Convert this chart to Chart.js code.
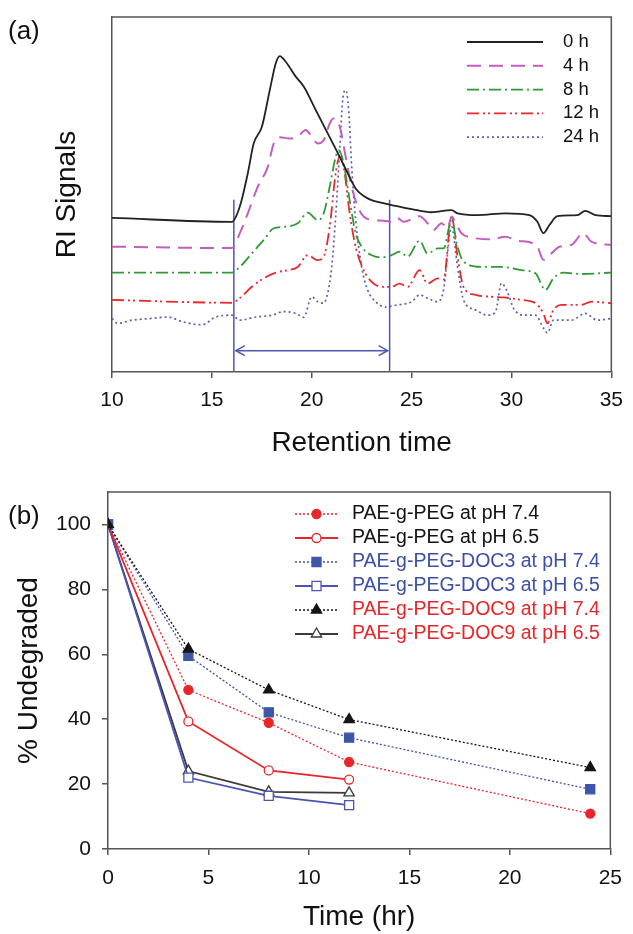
<!DOCTYPE html>
<html>
<head>
<meta charset="utf-8">
<script src="https://cdn.jsdelivr.net/npm/chart.js@4.4.0/dist/chart.umd.min.js"></script>
<style>
  html, body { margin: 0; padding: 0; background: #fff; }
  body { width: 633px; height: 934px; position: relative; overflow: hidden; font-family: 'Liberation Sans', Arial, sans-serif; }
  .box { position: absolute; left: 0; width: 633px; }
  #boxA { top: 0; height: 460px; }
  #boxB { top: 460px; height: 474px; }
  .panel { position: absolute; font-size: 26px; line-height: 1; color: #111; }
</style>
</head>
<body>
<div class="box" id="boxA"><canvas id="chartA"></canvas></div>
<div class="box" id="boxB"><canvas id="chartB"></canvas></div>
<div class="panel" style="left:8px; top:17px">(a)</div>
<div class="panel" style="left:8px; top:502px">(b)</div>

<script>
// ---- panel (a): RI traces, retention time vs signal (arbitrary units) ----
const x0h = [10, 16.0, 16.4, 16.8, 17.1, 17.5, 17.9, 18.2, 18.4, 18.7, 19.2, 19.6, 20.2, 20.8, 21.4, 21.8, 22.2, 22.8, 23.8, 25.0, 26.0, 27.0, 27.3, 28.3, 29.7, 30.9, 31.3, 31.6, 31.9, 32.3, 33.3, 33.7, 34.2, 35];
const y0h = [43.4, 42.3, 46.6, 56, 64.5, 69, 79.4, 87, 89, 87.4, 83.2, 80.4, 73.8, 67.2, 60.6, 56, 51.7, 48.9, 47.3, 45.9, 45, 45.6, 44.7, 44.2, 44.7, 44.2, 42.3, 39.1, 41.4, 43.9, 44.2, 45.4, 44.2, 43.9];

const x4h = [10, 16.0, 16.4, 16.8, 17.3, 17.8, 18.1, 18.4, 18.9, 19.3, 19.7, 20.0, 20.3, 20.6, 20.9, 21.1, 21.4, 21.7, 22.0, 22.3, 22.6, 23.0, 23.6, 24.0, 24.3, 24.6, 25.4, 25.8, 26.1, 26.5, 26.8, 27.0, 27.2, 27.5, 28.0, 29.0, 29.7, 30.3, 31.0, 31.3, 31.6, 32.0, 32.4, 33.0, 33.6, 34.0, 35];
const y4h = [35.3, 34.9, 39.1, 44.7, 52.2, 57.8, 64.4, 66.1, 65.8, 66.3, 68.2, 66.3, 64.4, 65.3, 70, 71.4, 69.2, 60.6, 52.2, 46.6, 43.8, 42.8, 42.6, 42.3, 43.3, 42.3, 43.9, 41.9, 40, 41.9, 40.5, 43.8, 42, 39.1, 37.9, 37.4, 38.1, 37, 36.4, 35.3, 31.6, 33.4, 35.3, 35.8, 39.1, 36.7, 35.8];

const x8h = [10, 16.0, 16.4, 17.0, 17.6, 18.1, 18.6, 19.3, 19.8, 20.3, 20.6, 20.9, 21.2, 21.35, 21.6, 21.9, 22.2, 22.5, 23.0, 23.5, 24.0, 24.4, 24.8, 25.4, 25.8, 26.3, 26.6, 27.0, 27.3, 27.6, 28.5, 29.5, 30.5, 31.2, 31.7, 32.1, 32.6, 33.5, 35];
const y8h = [28, 28, 29.6, 33.4, 37.2, 40.5, 40.9, 41.9, 44.9, 42.8, 44.7, 52.2, 60.6, 62.5, 58.7, 48.4, 39.1, 35.3, 32.9, 32.3, 32.9, 33.9, 32.5, 37, 33.4, 34.8, 34.8, 42.8, 35.3, 31.1, 29.6, 29.6, 28.7, 27.8, 23.1, 26.4, 28, 27.6, 28];

const x12h = [10, 16.0, 16.4, 17.0, 17.6, 18.2, 18.8, 19.3, 19.8, 20.3, 20.6, 20.9, 21.2, 21.4, 21.6, 21.9, 22.2, 22.6, 23.0, 23.5, 24.0, 24.4, 24.8, 25.4, 25.8, 26.3, 26.6, 27.0, 27.3, 27.6, 28.2, 29.0, 29.6, 30.5, 31.2, 31.6, 31.8, 32.1, 32.5, 33.5, 34.0, 35];
const y12h = [20.3, 19.5, 20.8, 24, 26.4, 28, 28.7, 29.6, 32.9, 31.5, 32.5, 40.9, 56, 60.6, 57.8, 44.7, 35.3, 28.7, 25.4, 24, 24, 24.9, 24, 28.7, 24.9, 26.4, 26, 43.8, 32.5, 24, 21.7, 21.2, 21, 20.3, 19.4, 16.5, 13.7, 17.5, 18.9, 18.9, 19.8, 19.4];

const x24h = [10, 10.3, 11, 12, 12.8, 13.5, 14.5, 15.2, 16.0, 16.4, 17.2, 18.0, 18.6, 19.2, 19.6, 20.0, 20.3, 20.6, 20.8, 21.0, 21.2, 21.4, 21.55, 21.7, 21.85, 22.0, 22.2, 22.5, 22.8, 23.2, 23.7, 24.2, 25.0, 25.4, 25.8, 26.3, 26.6, 27.0, 27.3, 27.6, 28.2, 28.8, 29.2, 29.5, 29.8, 30.1, 30.6, 31.2, 31.6, 31.8, 32.1, 33.0, 33.7, 34.3, 35];
const y24h = [15.1, 13.7, 14.6, 15.1, 15.5, 14.2, 13.3, 15.5, 16, 14.6, 15.5, 16, 17, 16.5, 15.4, 21.2, 19.8, 19.4, 22.2, 29.6, 43.8, 62.5, 76.6, 79.4, 73.8, 57.8, 42.8, 29.6, 23.1, 19.8, 18.3, 18.8, 19.8, 21.7, 20.8, 19.8, 23.1, 40.9, 29.6, 20.3, 17.5, 16, 16.9, 25, 22.5, 18, 16, 16, 12.4, 11, 14.6, 14.6, 16.5, 14.6, 15.1];

// integration window marked under the traces
const windowX = [16.1, 23.9];
const windowTop = 48.5;
const arrowX = [16.2, 23.8];
const arrowY = 6;

// ---- panel (b): degradation kinetics ----
const timeLong = [0, 4, 8, 12, 24];
const timeShort = [0, 4, 8, 12];
const peg74 = [100, 49.0, 38.9, 26.8, 10.9];
const peg65 = [100, 39.3, 24.2, 21.4];
const doc3_74 = [100, 59.5, 42.1, 34.3, 18.4];
const doc3_65 = [100, 22.0, 16.4, 13.5];
const doc9_74 = [100, 61.6, 49.0, 39.9, 25.1];
const doc9_65 = [100, 24.0, 17.6, 17.3];

const fam = "'Liberation Sans', Arial, Helvetica, sans-serif";
Chart.defaults.font.family = fam;
Chart.defaults.color = '#111';
const axisGray = '#555';

function zipXY(xs, ys) {
    return xs.map(function (x, i) { return { x: x, y: ys[i] }; });
}

// little marker helper for the legend, same shapes as chart.js
function marker(ctx, style, x, y, r, fill, stroke, bw) {
    ctx.save();
    ctx.fillStyle = fill;
    ctx.strokeStyle = stroke;
    ctx.lineWidth = bw;
    ctx.setLineDash([]);
    ctx.beginPath();
    if (style === 'rect') {
        const s = Math.SQRT1_2 * r;
        ctx.rect(x - s, y - s, 2 * s, 2 * s);
    } else if (style === 'triangle') {
        let a = 0;
        ctx.moveTo(x + Math.sin(a) * r, y - Math.cos(a) * r);
        a += 2 * Math.PI / 3;
        ctx.lineTo(x + Math.sin(a) * r, y - Math.cos(a) * r);
        a += 2 * Math.PI / 3;
        ctx.lineTo(x + Math.sin(a) * r, y - Math.cos(a) * r);
        ctx.closePath();
    } else {
        ctx.arc(x, y, r, 0, Math.PI * 2);
    }
    ctx.fill();
    ctx.stroke();
    ctx.restore();
}

// box around the plot area (top + right sides)
const framePlugin = {
    id: 'frame',
    beforeDatasetsDraw(chart) {
        const a = chart.chartArea, ctx = chart.ctx;
        ctx.save();
        ctx.strokeStyle = axisGray;
        ctx.lineWidth = 1.5;
        ctx.beginPath();
        ctx.moveTo(a.left, a.top);
        ctx.lineTo(a.right, a.top);
        ctx.lineTo(a.right, a.bottom);
        ctx.stroke();
        ctx.restore();
    }
};

// legend drawn inside the plot
const legendPlugin = {
    id: 'boxLegend',
    afterDatasetsDraw(chart, args, opts) {
        const ctx = chart.ctx;
        ctx.save();
        ctx.font = opts.font + 'px ' + fam;
        ctx.textBaseline = 'middle';
        let row = 0;
        chart.data.datasets.forEach(function (ds) {
            if (!ds.inLegend) return;
            const y = opts.y0 + row * opts.dy;
            ctx.strokeStyle = ds.borderColor;
            ctx.lineWidth = ds.borderWidth;
            ctx.setLineDash(ds.borderDash || []);
            ctx.beginPath();
            ctx.moveTo(opts.x0, y);
            ctx.lineTo(opts.x1, y);
            ctx.stroke();
            ctx.setLineDash([]);
            if (ds.pointRadius > 0) {
                marker(ctx, ds.pointStyle, (opts.x0 + opts.x1) / 2, y, ds.pointRadius,
                    ds.pointBackgroundColor, ds.pointBorderColor, ds.pointBorderWidth);
            }
            ctx.fillStyle = ds.labelColor || '#111';
            ctx.fillText(ds.label, opts.textX, y);
            row++;
        });
        ctx.restore();
    }
};

// open arrow heads on both ends of the window arrow
const arrowPlugin = {
    id: 'arrowHeads',
    afterDatasetsDraw(chart) {
        const ctx = chart.ctx;
        chart.data.datasets.forEach(function (ds, i) {
            if (!ds.arrow) return;
            const pts = chart.getDatasetMeta(i).data;
            const a = pts[0], b = pts[pts.length - 1];
            ctx.save();
            ctx.strokeStyle = ds.borderColor;
            ctx.lineWidth = ds.borderWidth;
            ctx.beginPath();
            ctx.moveTo(a.x + 9, a.y - 5); ctx.lineTo(a.x, a.y); ctx.lineTo(a.x + 9, a.y + 5);
            ctx.moveTo(b.x - 9, b.y - 5); ctx.lineTo(b.x, b.y); ctx.lineTo(b.x - 9, b.y + 5);
            ctx.stroke();
            ctx.restore();
        });
    }
};

function traceA(label, xs, ys, color, dash, width) {
    return {
        label: label, data: zipXY(xs, ys), inLegend: true,
        borderColor: color, borderWidth: width, borderDash: dash,
        pointRadius: 0, cubicInterpolationMode: 'monotone', fill: false
    };
}

const bracketColor = '#4f55b5';

new Chart(document.getElementById('chartA'), {
    type: 'line',
    data: {
        datasets: [
            traceA('0 h', x0h, y0h, '#222222', [], 1.8),
            traceA('4 h', x4h, y4h, '#c35ec0', [14, 8], 2),
            traceA('8 h', x8h, y8h, '#2f9a35', [12, 4, 2, 4], 1.8),
            traceA('12 h', x12h, y12h, '#e8282c', [12, 4, 2, 3, 2, 4], 1.8),
            traceA('24 h', x24h, y24h, '#5b5fb5', [2, 3], 1.7),
            { data: [{ x: windowX[0], y: 0 }, { x: windowX[0], y: windowTop }], borderColor: bracketColor, borderWidth: 1.5, pointRadius: 0 },
            { data: [{ x: windowX[1], y: 0 }, { x: windowX[1], y: windowTop }], borderColor: bracketColor, borderWidth: 1.5, pointRadius: 0 },
            { data: [{ x: arrowX[0], y: arrowY }, { x: arrowX[1], y: arrowY }], borderColor: bracketColor, borderWidth: 1.5, pointRadius: 0, arrow: true }
        ]
    },
    options: {
        responsive: true,
        maintainAspectRatio: false,
        animation: false,
        events: [],
        layout: { padding: { left: 0, top: 17, right: 13, bottom: 0 } },
        plugins: {
            legend: { display: false },
            tooltip: { enabled: false },
            boxLegend: { x0: 467, x1: 543, textX: 563, y0: 42, dy: 23.8, font: 18.5 }
        },
        scales: {
            x: {
                type: 'linear', min: 10, max: 35,
                ticks: { stepSize: 5, font: { size: 21 }, padding: 10, color: '#111', maxRotation: 0 },
                grid: { drawOnChartArea: false, tickLength: 6, color: axisGray, lineWidth: 1.5 },
                border: { color: axisGray, width: 1.5 },
                title: { display: true, text: 'Retention time', font: { size: 28 }, color: '#111', padding: { top: 0, bottom: 0 } },
                afterFit(s) { s.height = 88; }
            },
            y: {
                min: 0, max: 100,
                ticks: { display: false },
                grid: { display: false },
                border: { color: axisGray, width: 1.5 },
                title: { display: true, text: 'RI Signals', font: { size: 28 }, color: '#111', padding: { top: 50, bottom: 0 } },
                afterFit(s) { s.width = 112; }
            }
        }
    },
    plugins: [framePlugin, legendPlugin, arrowPlugin]
});

function seriesB(label, xs, ys, color, dotted, style, filled, radius, labelColor, order) {
    return {
        label: label, data: zipXY(xs, ys), inLegend: true, labelColor: labelColor, order: order,
        borderColor: color, borderWidth: dotted ? 1.3 : 1.8, borderDash: dotted ? [2, 2] : [],
        pointStyle: style, pointRadius: radius,
        pointBackgroundColor: filled ? color : '#ffffff', pointBorderColor: color, pointBorderWidth: 1.3,
        tension: 0, fill: false
    };
}

const red = '#e8262a', blue = '#3d56a8', black = '#151515';

new Chart(document.getElementById('chartB'), {
    type: 'line',
    data: {
        datasets: [
            seriesB('PAE-g-PEG at pH 7.4', timeLong, peg74, red, true, 'circle', true, 4.5, '#111', 2),
            seriesB('PAE-g-PEG at pH 6.5', timeShort, peg65, red, false, 'circle', false, 4.5, '#111', 2),
            seriesB('PAE-g-PEG-DOC3 at pH 7.4', timeLong, doc3_74, blue, true, 'rect', true, 6.4, '#3b4fa6', 1),
            seriesB('PAE-g-PEG-DOC3 at pH 6.5', timeShort, doc3_65, '#4a55b3', false, 'rect', false, 6.4, '#3b4fa6', 2),
            seriesB('PAE-g-PEG-DOC9 at pH 7.4', timeLong, doc9_74, black, true, 'triangle', true, 6, '#e8262a', 0),
            seriesB('PAE-g-PEG-DOC9 at pH 6.5', timeShort, doc9_65, '#3a3a3a', false, 'triangle', false, 6, '#e8262a', 2)
        ]
    },
    options: {
        responsive: true,
        maintainAspectRatio: false,
        animation: false,
        events: [],
        layout: { padding: { left: 0, top: 32, right: 14, bottom: 0 } },
        plugins: {
            legend: { display: false },
            tooltip: { enabled: false },
            boxLegend: { x0: 295, x1: 338, textX: 352, y0: 54, dy: 24, font: 19.5 }
        },
        scales: {
            x: {
                type: 'linear', min: 0, max: 25,
                ticks: { stepSize: 5, font: { size: 21 }, padding: 11, color: '#111', maxRotation: 0 },
                grid: { drawOnChartArea: false, tickLength: 6, color: axisGray, lineWidth: 1.5 },
                border: { color: axisGray, width: 1.5 },
                title: { display: true, text: 'Time (hr)', font: { size: 28 }, color: '#111', padding: { top: 0, bottom: 0 } },
                afterFit(s) { s.height = 85; }
            },
            y: {
                min: 0, max: 110,
                ticks: { stepSize: 20, font: { size: 21 }, padding: 11, color: '#111' },
                afterBuildTicks(s) { s.ticks = s.ticks.filter(function (t) { return t.value <= 100; }); },
                grid: { drawOnChartArea: false, tickLength: 6, color: axisGray, lineWidth: 1.5 },
                border: { color: axisGray, width: 1.5 },
                title: { display: true, text: '% Undegraded', font: { size: 28 }, color: '#111', padding: { top: 12, bottom: 0 } },
                afterFit(s) { s.width = 108; }
            }
        }
    },
    plugins: [framePlugin, legendPlugin]
});
</script>
</body>
</html>
